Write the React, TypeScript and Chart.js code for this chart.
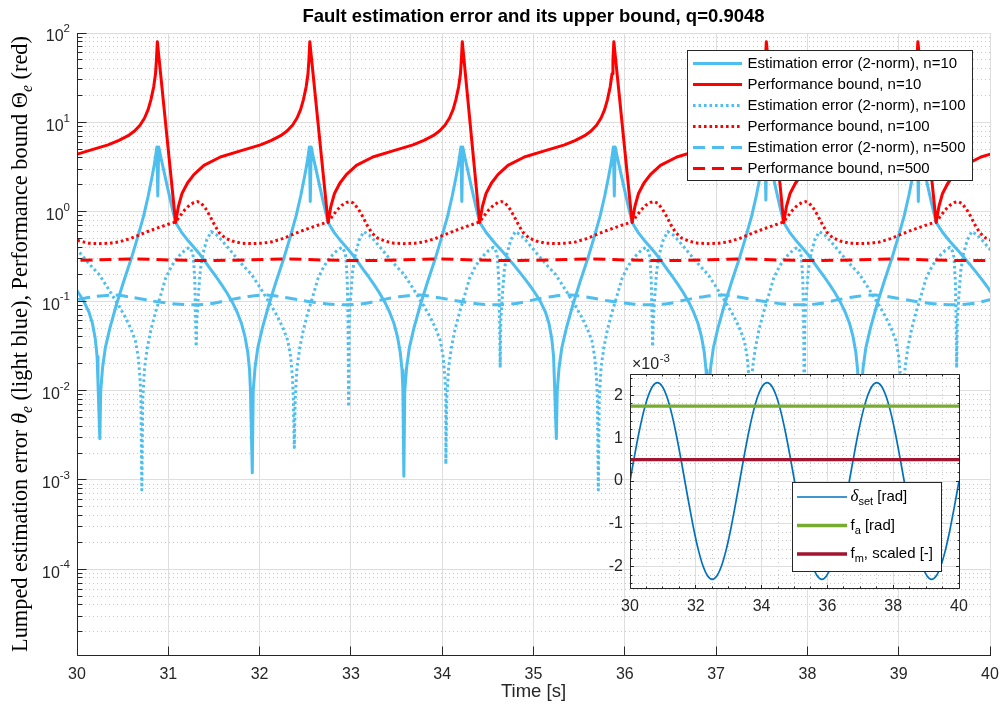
import React, { useEffect, useRef } from "react";
import { Chart, registerables } from "chart.js";

Chart.register(...registerables);

// ------------------------------------------------------------------ data
const titleText = "Fault estimation error and its upper bound, q=0.9048";
const xLabelText = "Time [s]";
const xTickValues = [30, 31, 32, 33, 34, 35, 36, 37, 38, 39, 40];
const yDecadeExponents = [-4, -3, -2, -1, 0, 1, 2];
const yMin = 1.1e-5;
const yMax = 100;

const seriesLabels = [
  "Estimation error (2-norm), n=10",
  "Performance bound, n=10",
  "Estimation error (2-norm), n=100",
  "Performance bound, n=100",
  "Estimation error (2-norm), n=500",
  "Performance bound, n=500",
];

// time [s] of the cusp minimum of the n=10 bound in each cycle
const cycleTimes = [29.41, 31.08, 32.75, 34.41, 36.08, 37.74, 39.41];

// Performance bound, n=10 (sample times are relative to each cycle time)
const boundN10Offsets = [0, 0.03, 0.07, 0.13, 0.2, 0.31, 0.49, 0.71, 0.93, 1.05, 1.15, 1.22, 1.28, 1.33, 1.37, 1.4, 1.43, 1.45, 1.46, 1.47];
const boundN10Values = [
  [0.76, 1.14, 1.6, 2.1, 2.6, 3.3, 4.1, 4.8, 5.6, 6.3, 7.1, 8.0, 9.3, 11.2, 14, 18, 25, 35, 50, 80],
  [0.76, 1.14, 1.6, 2.1, 2.6, 3.3, 4.1, 4.8, 5.6, 6.3, 7.1, 8.0, 9.3, 11.2, 14, 18, 25, 35, 50, 80],
  [0.76, 1.14, 1.6, 2.1, 2.6, 3.3, 4.1, 4.8, 5.6, 6.3, 7.1, 8.0, 9.3, 11.2, 14, 18, 25, 35, 50, 80],
  [0.76, 1.14, 1.6, 2.1, 2.6, 3.3, 4.1, 4.8, 5.6, 6.3, 7.1, 8.0, 9.3, 11.2, 14, 18, 25, 35, 50, 80],
  [0.76, 1.14, 1.6, 2.1, 2.6, 3.3, 4.1, 4.8, 5.6, 6.3, 7.1, 8.0, 9.3, 11.2, 14, 18, 25, 35, 50, 80],
  [0.76, 1.14, 1.6, 2.1, 2.6, 3.3, 4.1, 4.8, 5.6, 6.3, 7.1, 8.0, 9.3, 11.2, 14, 18, 25, 35, 50, 80],
  [0.76, 1.14, 1.6, 2.1, 2.6, 3.3, 4.1, 4.8, 5.6, 6.3, 7.1, 8.0, 9.3, 11.2, 14, 18, 25, 35, 50, 80],
];

// Estimation error, n=10
const errN10Offsets = [
  -0.83, -0.82, -0.8, -0.77, -0.72, -0.65, -0.57, -0.49, -0.42, -0.35, -0.3, -0.26, -0.23, -0.205,
  -0.195,
  -0.185, -0.16, -0.13, -0.09, -0.05, 0, 0.07, 0.14, 0.2, 0.26, 0.32, 0.38, 0.44,
  0.5, 0.56, 0.62, 0.67, 0.72, 0.76, 0.79, 0.81, 0.82,
];
const errN10Values = [
  [1.1e-3, 0.01, 0.018, 0.03, 0.05, 0.09, 0.165, 0.29, 0.5, 0.9, 1.5, 2.4, 3.5, 5.3, 1.3, 5.3, 4.0, 2.9, 1.9, 1.25, 0.76, 0.59, 0.48, 0.41, 0.35, 0.295, 0.25, 0.21, 0.175, 0.145, 0.118, 0.097, 0.076, 0.056, 0.038, 0.024, 0.012],
  [2.9e-3, 0.01, 0.018, 0.03, 0.05, 0.09, 0.165, 0.29, 0.5, 0.9, 1.5, 2.4, 3.5, 5.3, 1.5, 5.3, 4.0, 2.9, 1.9, 1.25, 0.76, 0.58, 0.47, 0.4, 0.34, 0.28, 0.23, 0.19, 0.155, 0.125, 0.098, 0.077, 0.057, 0.04, 0.027, 0.017, 0.01],
  [1.2e-3, 0.01, 0.018, 0.03, 0.05, 0.09, 0.165, 0.29, 0.5, 0.9, 1.5, 2.4, 3.5, 5.3, 1.3, 5.3, 4.0, 2.9, 1.9, 1.25, 0.76, 0.58, 0.47, 0.4, 0.34, 0.28, 0.23, 0.19, 0.155, 0.125, 0.098, 0.077, 0.057, 0.04, 0.027, 0.017, 0.01],
  [1.1e-3, 0.01, 0.018, 0.03, 0.05, 0.09, 0.165, 0.29, 0.5, 0.9, 1.5, 2.4, 3.5, 5.3, 1.3, 5.3, 4.0, 2.9, 1.9, 1.25, 0.76, 0.59, 0.48, 0.41, 0.35, 0.295, 0.25, 0.21, 0.175, 0.145, 0.118, 0.097, 0.076, 0.056, 0.038, 0.024, 0.012],
  [2.9e-3, 0.01, 0.018, 0.03, 0.05, 0.09, 0.165, 0.29, 0.5, 0.9, 1.5, 2.4, 3.5, 5.3, 1.5, 5.3, 4.0, 2.9, 1.9, 1.25, 0.76, 0.58, 0.47, 0.4, 0.34, 0.28, 0.23, 0.19, 0.155, 0.125, 0.098, 0.077, 0.057, 0.04, 0.027, 0.017, 0.01],
  [1.2e-3, 0.01, 0.018, 0.03, 0.05, 0.09, 0.165, 0.29, 0.5, 0.9, 1.5, 2.4, 3.5, 5.3, 1.35, 5.3, 4.0, 2.9, 1.9, 1.25, 0.76, 0.58, 0.47, 0.4, 0.34, 0.28, 0.23, 0.19, 0.155, 0.125, 0.098, 0.077, 0.057, 0.04, 0.027, 0.017, 0.01],
  [1.1e-3, 0.01, 0.018, 0.03, 0.05, 0.09, 0.165, 0.29, 0.5, 0.9, 1.5, 2.4, 3.5, 5.3, 1.3, 5.3, 4.0, 2.9, 1.9, 1.25, 0.76, 0.59, 0.48, 0.41, 0.35, 0.295, 0.25, 0.21, 0.175, 0.145, 0.118, 0.097, 0.076, 0.056, 0.038, 0.024, 0.012],
];

// Estimation error, n=100
const errN100Offsets = [
  -0.37, -0.36, -0.34, -0.31, -0.27, -0.22, -0.16, -0.11, -0.05, 0, 0.05, 0.1, 0.15, 0.18, 0.195, 0.21, 0.218,
  0.225,
  0.232, 0.25, 0.27, 0.3, 0.34, 0.39, 0.45, 0.505, 0.58, 0.65, 0.74, 0.83, 0.91, 0.98, 1.05, 1.12, 1.18, 1.23, 1.26, 1.28, 1.29,
];
const errN100Values = [
  [1.5e-3, 0.008, 0.018, 0.03, 0.048, 0.075, 0.12, 0.18, 0.24, 0.29, 0.33, 0.37, 0.4, 0.36, 0.31, 0.17, 0.07, 0.018, 0.06, 0.12, 0.22, 0.34, 0.48, 0.6, 0.55, 0.48, 0.39, 0.32, 0.25, 0.2, 0.15, 0.115, 0.088, 0.066, 0.049, 0.036, 0.024, 0.014, 0.008],
  [7.7e-4, 0.008, 0.018, 0.03, 0.048, 0.075, 0.12, 0.18, 0.24, 0.29, 0.33, 0.37, 0.4, 0.36, 0.31, 0.17, 0.07, 0.031, 0.06, 0.12, 0.22, 0.34, 0.48, 0.6, 0.55, 0.48, 0.39, 0.32, 0.25, 0.2, 0.15, 0.115, 0.088, 0.066, 0.049, 0.036, 0.024, 0.014, 0.008],
  [2.3e-3, 0.008, 0.018, 0.03, 0.048, 0.075, 0.12, 0.18, 0.24, 0.29, 0.33, 0.37, 0.4, 0.36, 0.31, 0.17, 0.07, 6.6e-3, 0.06, 0.12, 0.22, 0.34, 0.48, 0.6, 0.55, 0.48, 0.39, 0.32, 0.25, 0.2, 0.15, 0.115, 0.088, 0.066, 0.049, 0.036, 0.024, 0.014, 0.008],
  [1.5e-3, 0.008, 0.018, 0.03, 0.048, 0.075, 0.12, 0.18, 0.24, 0.29, 0.33, 0.37, 0.4, 0.36, 0.31, 0.17, 0.07, 0.018, 0.06, 0.12, 0.22, 0.34, 0.48, 0.6, 0.55, 0.48, 0.39, 0.32, 0.25, 0.2, 0.15, 0.115, 0.088, 0.066, 0.049, 0.036, 0.024, 0.014, 0.008],
  [7.7e-4, 0.008, 0.018, 0.03, 0.048, 0.075, 0.12, 0.18, 0.24, 0.29, 0.33, 0.37, 0.4, 0.36, 0.31, 0.17, 0.07, 0.031, 0.06, 0.12, 0.22, 0.34, 0.48, 0.6, 0.55, 0.48, 0.39, 0.32, 0.25, 0.2, 0.15, 0.115, 0.088, 0.066, 0.049, 0.036, 0.024, 0.014, 0.008],
  [2.3e-3, 0.008, 0.018, 0.03, 0.048, 0.075, 0.12, 0.18, 0.24, 0.29, 0.33, 0.37, 0.4, 0.36, 0.31, 0.17, 0.07, 6.6e-3, 0.06, 0.12, 0.22, 0.34, 0.48, 0.6, 0.55, 0.48, 0.39, 0.32, 0.25, 0.2, 0.15, 0.115, 0.088, 0.066, 0.049, 0.036, 0.024, 0.014, 0.008],
  [1.5e-3, 0.008, 0.018, 0.03, 0.048, 0.075, 0.12, 0.18, 0.24, 0.29, 0.33, 0.37, 0.4, 0.36, 0.31, 0.17, 0.07, 0.018, 0.06, 0.12, 0.22, 0.34, 0.48, 0.6, 0.55, 0.48, 0.39, 0.32, 0.25, 0.2, 0.15, 0.115, 0.088, 0.066, 0.049, 0.036, 0.024, 0.014, 0.008],
];

// Performance bound, n=100
const boundN100Offsets = [0, 0.05, 0.1, 0.15, 0.2, 0.24, 0.28, 0.33, 0.38, 0.43, 0.48, 0.54, 0.62, 0.72, 0.83, 0.95, 1.05, 1.17, 1.27, 1.38, 1.49, 1.58];
const boundN100Values = [
  [0.77, 0.9, 1.05, 1.18, 1.27, 1.3, 1.25, 1.08, 0.88, 0.7, 0.58, 0.51, 0.47, 0.445, 0.44, 0.445, 0.46, 0.5, 0.55, 0.61, 0.67, 0.72],
  [0.77, 0.9, 1.05, 1.18, 1.27, 1.3, 1.25, 1.08, 0.88, 0.7, 0.58, 0.51, 0.47, 0.445, 0.44, 0.445, 0.46, 0.5, 0.55, 0.61, 0.67, 0.72],
  [0.77, 0.9, 1.05, 1.18, 1.27, 1.3, 1.25, 1.08, 0.88, 0.7, 0.58, 0.51, 0.47, 0.445, 0.44, 0.445, 0.46, 0.5, 0.55, 0.61, 0.67, 0.72],
  [0.77, 0.9, 1.05, 1.18, 1.27, 1.3, 1.25, 1.08, 0.88, 0.7, 0.58, 0.51, 0.47, 0.445, 0.44, 0.445, 0.46, 0.5, 0.55, 0.61, 0.67, 0.72],
  [0.77, 0.9, 1.05, 1.18, 1.27, 1.3, 1.25, 1.08, 0.88, 0.7, 0.58, 0.51, 0.47, 0.445, 0.44, 0.445, 0.46, 0.5, 0.55, 0.61, 0.67, 0.72],
  [0.77, 0.9, 1.05, 1.18, 1.27, 1.3, 1.25, 1.08, 0.88, 0.7, 0.58, 0.51, 0.47, 0.445, 0.44, 0.445, 0.46, 0.5, 0.55, 0.61, 0.67, 0.72],
  [0.77, 0.9, 1.05, 1.18, 1.27, 1.3, 1.25, 1.08, 0.88, 0.7, 0.58, 0.51, 0.47, 0.445, 0.44, 0.445, 0.46, 0.5, 0.55, 0.61, 0.67, 0.72],
];

// Estimation error, n=500
const errN500Offsets = [0, 0.2, 0.4, 0.6, 0.8, 1.0, 1.2, 1.4];
const errN500Values = [
  [0.093, 0.091, 0.094, 0.104, 0.113, 0.117, 0.11, 0.101],
  [0.093, 0.091, 0.094, 0.104, 0.113, 0.117, 0.11, 0.101],
  [0.093, 0.091, 0.094, 0.104, 0.113, 0.117, 0.11, 0.101],
  [0.093, 0.091, 0.094, 0.104, 0.113, 0.117, 0.11, 0.101],
  [0.093, 0.091, 0.094, 0.104, 0.113, 0.117, 0.11, 0.101],
  [0.093, 0.091, 0.094, 0.104, 0.113, 0.117, 0.11, 0.101],
  [0.093, 0.091, 0.094, 0.104, 0.113, 0.117, 0.11, 0.101],
];

// Performance bound, n=500
const boundN500Offsets = [0, 0.42, 0.83, 1.25];
const boundN500Values = [
  [0.288, 0.285, 0.29, 0.296],
  [0.288, 0.285, 0.29, 0.296],
  [0.288, 0.285, 0.29, 0.296],
  [0.288, 0.285, 0.29, 0.296],
  [0.288, 0.285, 0.29, 0.296],
  [0.288, 0.285, 0.29, 0.296],
  [0.288, 0.285, 0.29, 0.296],
];

// Inset: set-point and faults
const insetXTicks = [30, 32, 34, 36, 38, 40];
const insetYTicks = [-2, -1, 0, 1, 2]; // x 10^-3
const deltaTimes = [
  30.0, 30.139, 30.278, 30.417, 30.556, 30.694, 30.833, 30.972, 31.111, 31.25, 31.389, 31.528,
  31.667, 31.806, 31.944, 32.083, 32.222, 32.361, 32.5, 32.639, 32.778, 32.917, 33.056, 33.194,
  33.333, 33.472, 33.611, 33.75, 33.889, 34.028, 34.167, 34.306, 34.444, 34.583, 34.722, 34.861,
  35.0, 35.139, 35.278, 35.417, 35.556, 35.694, 35.833, 35.972, 36.111, 36.25, 36.389, 36.528,
  36.667, 36.806, 36.944, 37.083, 37.222, 37.361, 37.5, 37.639, 37.778, 37.917, 38.056, 38.194,
  38.333, 38.472, 38.611, 38.75, 38.889, 39.028, 39.167, 39.306, 39.444, 39.583, 39.722, 39.861, 40.0,
];
const deltaValues = [
  0, 0.595e-3, 1.15e-3, 1.626e-3, 1.992e-3, 2.222e-3, 2.3e-3, 2.222e-3, 1.992e-3, 1.626e-3, 1.15e-3, 0.595e-3,
  0, -0.595e-3, -1.15e-3, -1.626e-3, -1.992e-3, -2.222e-3, -2.3e-3, -2.222e-3, -1.992e-3, -1.626e-3, -1.15e-3, -0.595e-3,
  0, 0.595e-3, 1.15e-3, 1.626e-3, 1.992e-3, 2.222e-3, 2.3e-3, 2.222e-3, 1.992e-3, 1.626e-3, 1.15e-3, 0.595e-3,
  0, -0.595e-3, -1.15e-3, -1.626e-3, -1.992e-3, -2.222e-3, -2.3e-3, -2.222e-3, -1.992e-3, -1.626e-3, -1.15e-3, -0.595e-3,
  0, 0.595e-3, 1.15e-3, 1.626e-3, 1.992e-3, 2.222e-3, 2.3e-3, 2.222e-3, 1.992e-3, 1.626e-3, 1.15e-3, 0.595e-3,
  0, -0.595e-3, -1.15e-3, -1.626e-3, -1.992e-3, -2.222e-3, -2.3e-3, -2.222e-3, -1.992e-3, -1.626e-3, -1.15e-3, -0.595e-3,
  0,
];
const faTimes = [30, 40];
const faValues = [1.75e-3, 1.75e-3];
const fmTimes = [30, 40];
const fmValues = [0.5e-3, 0.5e-3];

// ------------------------------------------------------------------ style
const SANS = '"Liberation Sans", Arial, Helvetica, sans-serif';
const SERIF = '"Liberation Serif", "Times New Roman", serif';
const AXIS = "#262626";
const GRID_MAJOR = "#dedede";
const GRID_MINOR = "#c8c8c8";
const LIGHT_BLUE = "#4DBEEE";
const RED = "#FF0000";
const DOT = [2.6, 2.9];
const DASH = [12, 7];

const OX = 560; // inset canvas offset on the page
const OY = 340;

// ------------------------------------------------------------------ helpers
function cyclePoints(offsets: number[], values: number[][]) {
  const pts: { x: number; y: number }[] = [];
  values.forEach((row, k) => {
    const t0 = cycleTimes[k];
    row.forEach((v, j) => pts.push({ x: Math.round((t0 + offsets[j]) * 1000) / 1000, y: v }));
  });
  return pts;
}
function pairPoints(xs: number[], ys: number[]) {
  return xs.map((x, i) => ({ x, y: ys[i] }));
}
const al = (p: number) => Math.round(p - 0.5) + 0.5;

function drawParts(ctx: any, x: number, y: number, parts: any[]) {
  for (const p of parts) {
    ctx.font = p.font;
    ctx.fillText(p.text, x, y + (p.dy || 0));
    x += ctx.measureText(p.text).width;
  }
}

const yLabelParts = [
  { text: "Lumped estimation error ", style: "", sub: false },
  { text: "\u03B8", style: "italic ", sub: false },
  { text: "e", style: "italic ", sub: true },
  { text: " (light blue), Performance bound ", style: "", sub: false },
  { text: "\u0398", style: "", sub: false },
  { text: "e", style: "italic ", sub: true },
  { text: " (red)", style: "", sub: false },
];

function drawYLabel(ctx: any, cx: number, cy: number, targetLen: number) {
  const measure = (s: number) => {
    let w = 0;
    for (const p of yLabelParts) {
      ctx.font = `${p.style}${p.sub ? s * 0.7 : s}px ${SERIF}`;
      w += ctx.measureText(p.text).width;
    }
    return w;
  };
  const size = (20 * targetLen) / measure(20);
  const total = measure(size);
  ctx.save();
  ctx.translate(cx, cy);
  ctx.rotate(-Math.PI / 2);
  ctx.textAlign = "left";
  ctx.textBaseline = "alphabetic";
  ctx.fillStyle = "#000";
  let x = -total / 2;
  for (const p of yLabelParts) {
    const s = p.sub ? size * 0.7 : size;
    ctx.font = `${p.style}${s}px ${SERIF}`;
    ctx.fillText(p.text, x, p.sub ? size * 0.6 : size * 0.35);
    x += ctx.measureText(p.text).width;
  }
  ctx.restore();
}

function drawPow10(ctx: any, right: number, yc: number, exp: string) {
  ctx.textAlign = "left";
  ctx.textBaseline = "middle";
  ctx.font = `16px ${SANS}`;
  const wb = ctx.measureText("10").width;
  ctx.font = `11.5px ${SANS}`;
  const we = ctx.measureText(exp).width;
  ctx.font = `16px ${SANS}`;
  ctx.fillText("10", right - we - wb, yc + 4);
  ctx.font = `11.5px ${SANS}`;
  ctx.fillText(exp, right - we, yc - 4);
}

// ------------------------------------------------------------------ plugins
const mainDecor = {
  id: "mainDecor",
  afterDraw(chart: any) {
    const { ctx, chartArea: a } = chart;
    const xs = chart.scales.x;
    const ys = chart.scales.y;
    ctx.save();
    ctx.setLineDash([]);
    ctx.strokeStyle = AXIS;
    ctx.lineWidth = 1;
    const L = al(a.left);
    const B = al(a.bottom);
    ctx.beginPath();
    ctx.moveTo(L, a.top);
    ctx.lineTo(L, B);
    ctx.lineTo(a.right + 1, B);
    for (const v of xTickValues) {
      const p = al(xs.getPixelForValue(v));
      ctx.moveTo(p, B);
      ctx.lineTo(p, B - 9);
    }
    for (const tk of ys.ticks) {
      const p = al(ys.getPixelForValue(tk.value));
      ctx.moveTo(L, p);
      ctx.lineTo(L + (tk.major ? 9 : 5), p);
    }
    ctx.stroke();

    // tick labels
    ctx.fillStyle = AXIS;
    ctx.font = `16px ${SANS}`;
    ctx.textAlign = "center";
    ctx.textBaseline = "middle";
    for (const v of xTickValues) ctx.fillText(String(v), xs.getPixelForValue(v), a.bottom + 20);
    for (const e of yDecadeExponents) drawPow10(ctx, a.left - 7, ys.getPixelForValue(Math.pow(10, e)), String(e));

    // axis titles and title
    ctx.fillStyle = AXIS;
    ctx.textAlign = "center";
    ctx.textBaseline = "middle";
    ctx.font = `18.5px ${SANS}`;
    ctx.fillText(xLabelText, (a.left + a.right) / 2, a.bottom + 37);
    ctx.fillStyle = "#000";
    ctx.font = `bold 18.5px ${SANS}`;
    ctx.fillText(titleText, (a.left + a.right) / 2, 17);
    drawYLabel(ctx, 19, (a.top + a.bottom) / 2, 616);

    // legend
    const lx = 687.5, ly = 50.5, lw = 285, lh = 130;
    ctx.fillStyle = "#fff";
    ctx.fillRect(lx, ly, lw, lh);
    ctx.strokeStyle = AXIS;
    ctx.lineWidth = 1;
    ctx.strokeRect(lx, ly, lw, lh);
    chart.data.datasets.forEach((ds: any, i: number) => {
      const yy = 63.5 + i * 21;
      ctx.beginPath();
      ctx.strokeStyle = ds.borderColor;
      ctx.lineWidth = ds.borderWidth;
      ctx.setLineDash(ds.borderDash || []);
      ctx.moveTo(693, yy);
      ctx.lineTo(742, yy);
      ctx.stroke();
      ctx.setLineDash([]);
      ctx.fillStyle = "#000";
      ctx.font = `15px ${SANS}`;
      ctx.textAlign = "left";
      ctx.textBaseline = "middle";
      ctx.fillText(ds.label, 747.5, yy);
    });
    ctx.restore();
  },
};

const insetDecor = {
  id: "insetDecor",
  beforeDraw(chart: any) {
    const { ctx, chartArea: a } = chart;
    ctx.save();
    ctx.fillStyle = "#fff";
    ctx.fillRect(a.left, a.top, a.right - a.left, a.bottom - a.top);
    ctx.restore();
  },
  afterDraw(chart: any) {
    const { ctx, chartArea: a } = chart;
    const xs = chart.scales.x;
    const ys = chart.scales.y;
    ctx.save();
    ctx.setLineDash([]);
    ctx.strokeStyle = AXIS;
    ctx.lineWidth = 1;
    const L = al(a.left), R = al(a.right), T = al(a.top), B = al(a.bottom);
    ctx.beginPath();
    ctx.rect(L, T, R - L, B - T);
    for (const tk of xs.ticks) {
      const p = al(xs.getPixelForValue(tk.value));
      const len = tk.major ? 3.5 : 2;
      ctx.moveTo(p, B); ctx.lineTo(p, B - len);
      ctx.moveTo(p, T); ctx.lineTo(p, T + len);
    }
    for (const tk of ys.ticks) {
      const p = al(ys.getPixelForValue(tk.value));
      const len = tk.major ? 3.5 : 2;
      ctx.moveTo(L, p); ctx.lineTo(L + len, p);
      ctx.moveTo(R, p); ctx.lineTo(R - len, p);
    }
    ctx.stroke();

    ctx.fillStyle = AXIS;
    ctx.font = `16px ${SANS}`;
    ctx.textAlign = "center";
    ctx.textBaseline = "middle";
    for (const v of insetXTicks) ctx.fillText(String(v), xs.getPixelForValue(v), a.bottom + 19);
    ctx.textAlign = "right";
    for (const v of insetYTicks) ctx.fillText(String(v), a.left - 7, ys.getPixelForValue(v * 1e-3));
    ctx.textAlign = "left";
    ctx.textBaseline = "alphabetic";
    ctx.font = `16px ${SANS}`;
    ctx.fillText("\u00D710", 632 - OX, 369 - OY);
    const w = ctx.measureText("\u00D710").width;
    ctx.font = `11.5px ${SANS}`;
    ctx.fillText("-3", 632 - OX + w + 0.5, 362 - OY);

    // inset legend
    const lx = 792.5 - OX, ly = 482.5 - OY, lw = 149, lh = 89;
    ctx.fillStyle = "#fff";
    ctx.fillRect(lx, ly, lw, lh);
    ctx.strokeStyle = AXIS;
    ctx.lineWidth = 1;
    ctx.strokeRect(lx, ly, lw, lh);
    const rows = [
      [
        { text: "\u03B4", font: `italic 17px ${SERIF}` },
        { text: "set", font: `11px ${SANS}`, dy: 5 },
        { text: " [rad]", font: `15px ${SANS}` },
      ],
      [
        { text: "f", font: `15px ${SANS}` },
        { text: "a", font: `11px ${SANS}`, dy: 5 },
        { text: " [rad]", font: `15px ${SANS}` },
      ],
      [
        { text: "f", font: `15px ${SANS}` },
        { text: "m", font: `11px ${SANS}`, dy: 5 },
        { text: ", scaled [-]", font: `15px ${SANS}` },
      ],
    ];
    const rowY = [497, 525.5, 554];
    chart.data.datasets.forEach((ds: any, i: number) => {
      const yy = rowY[i] - OY;
      ctx.beginPath();
      ctx.strokeStyle = ds.borderColor;
      ctx.lineWidth = ds.borderWidth;
      ctx.moveTo(797 - OX, yy);
      ctx.lineTo(847 - OX, yy);
      ctx.stroke();
      ctx.fillStyle = "#000";
      ctx.textAlign = "left";
      ctx.textBaseline = "middle";
      drawParts(ctx, 850.5 - OX, yy, rows[i]);
    });
    ctx.restore();
  },
};

// ------------------------------------------------------------------ configs
function lineDs(label: string, data: any[], color: string, width: number, dash: number[], order: number, tension = 0) {
  return {
    label,
    data,
    borderColor: color,
    backgroundColor: color,
    borderWidth: width,
    borderDash: dash,
    borderJoinStyle: "round",
    borderCapStyle: "butt",
    pointRadius: 0,
    fill: false,
    tension,
    order,
  };
}

function mainConfig(): any {
  return {
    type: "line",
    data: {
      datasets: [
        lineDs(seriesLabels[0], cyclePoints(errN10Offsets, errN10Values), LIGHT_BLUE, 3, [], 6),
        lineDs(seriesLabels[1], cyclePoints(boundN10Offsets, boundN10Values), RED, 3, [], 5),
        lineDs(seriesLabels[2], cyclePoints(errN100Offsets, errN100Values), LIGHT_BLUE, 3, DOT, 4),
        lineDs(seriesLabels[3], cyclePoints(boundN100Offsets, boundN100Values), RED, 3, DOT, 3),
        lineDs(seriesLabels[4], cyclePoints(errN500Offsets, errN500Values), LIGHT_BLUE, 3, DASH, 2, 0.3),
        lineDs(seriesLabels[5], cyclePoints(boundN500Offsets, boundN500Values), RED, 3, DASH, 1, 0.3),
      ],
    },
    options: {
      animation: false,
      responsive: false,
      devicePixelRatio: 1,
      events: [],
      layout: { padding: { left: 77, top: 33, right: 10, bottom: 55 } },
      plugins: { legend: { display: false }, tooltip: { enabled: false }, title: { display: false } },
      scales: {
        x: {
          type: "linear",
          min: 30,
          max: 40,
          ticks: { display: false },
          grid: { drawTicks: false, color: GRID_MAJOR, lineWidth: 1 },
          border: { display: false },
          afterBuildTicks: (axis: any) => {
            axis.ticks = xTickValues.map((v) => ({ value: v, major: true }));
          },
        },
        y: {
          type: "logarithmic",
          min: yMin,
          max: yMax,
          ticks: { display: false },
          grid: {
            drawTicks: false,
            lineWidth: 1,
            color: (c: any) => (c.tick && c.tick.major ? GRID_MAJOR : GRID_MINOR),
          },
          border: { display: false, dash: (c: any) => (c.tick && !c.tick.major ? [1, 3] : []) },
          afterBuildTicks: (axis: any) => {
            const t: any[] = [];
            for (let e = -5; e <= 2; e++) {
              for (let m = 1; m <= 9; m++) {
                const v = Number((m * Math.pow(10, e)).toPrecision(3));
                if (v >= yMin && v <= yMax) t.push({ value: v, major: m === 1 });
              }
            }
            axis.ticks = t;
          },
        },
      },
    },
    plugins: [mainDecor],
  };
}

function insetConfig(): any {
  return {
    type: "line",
    data: {
      datasets: [
        lineDs("\u03B4set [rad]", pairPoints(deltaTimes, deltaValues), "#0072BD", 1.7, [], 3, 0.3),
        lineDs("fa [rad]", pairPoints(faTimes, faValues), "#77AC30", 3.3, [], 2),
        lineDs("fm, scaled [-]", pairPoints(fmTimes, fmValues), "#A2142F", 3.3, [], 1),
      ],
    },
    options: {
      animation: false,
      responsive: false,
      devicePixelRatio: 1,
      events: [],
      layout: { padding: { left: 70, top: 34, right: 41, bottom: 52 } },
      plugins: { legend: { display: false }, tooltip: { enabled: false }, title: { display: false } },
      scales: {
        x: {
          type: "linear",
          min: 30,
          max: 40,
          ticks: { display: false },
          grid: {
            drawTicks: false,
            lineWidth: 1,
            color: (c: any) => (c.tick && c.tick.major ? GRID_MAJOR : GRID_MINOR),
          },
          border: { display: false, dash: (c: any) => (c.tick && !c.tick.major ? [1, 3] : []) },
          afterBuildTicks: (axis: any) => {
            const t: any[] = [];
            for (let i = 0; i <= 20; i++) t.push({ value: 30 + i * 0.5, major: i % 4 === 0 });
            axis.ticks = t;
          },
        },
        y: {
          type: "linear",
          min: -2.5e-3,
          max: 2.5e-3,
          ticks: { display: false },
          grid: {
            drawTicks: false,
            lineWidth: 1,
            color: (c: any) => (c.tick && c.tick.major ? GRID_MAJOR : GRID_MINOR),
          },
          border: { display: false, dash: (c: any) => (c.tick && !c.tick.major ? [1, 3] : []) },
          afterBuildTicks: (axis: any) => {
            const t: any[] = [];
            for (let i = -12; i <= 12; i++) t.push({ value: i * 2e-4, major: i % 5 === 0 });
            axis.ticks = t;
          },
        },
      },
    },
    plugins: [insetDecor],
  };
}

// ------------------------------------------------------------------ component
export default function App() {
  const mainRef = useRef<HTMLCanvasElement | null>(null);
  const insetRef = useRef<HTMLCanvasElement | null>(null);

  useEffect(() => {
    document.body.style.margin = "0";
    const main = new Chart(mainRef.current as HTMLCanvasElement, mainConfig());
    const inset = new Chart(insetRef.current as HTMLCanvasElement, insetConfig());
    return () => {
      main.destroy();
      inset.destroy();
    };
  }, []);

  return (
    <div style={{ position: "fixed", left: 0, top: 0, width: 1000, height: 710, background: "#fff" }}>
      <canvas ref={mainRef} width={1000} height={710} style={{ position: "absolute", left: 0, top: 0, width: 1000, height: 710 }} />
      <canvas ref={insetRef} width={440} height={300} style={{ position: "absolute", left: OX, top: OY, width: 440, height: 300 }} />
    </div>
  );
}
